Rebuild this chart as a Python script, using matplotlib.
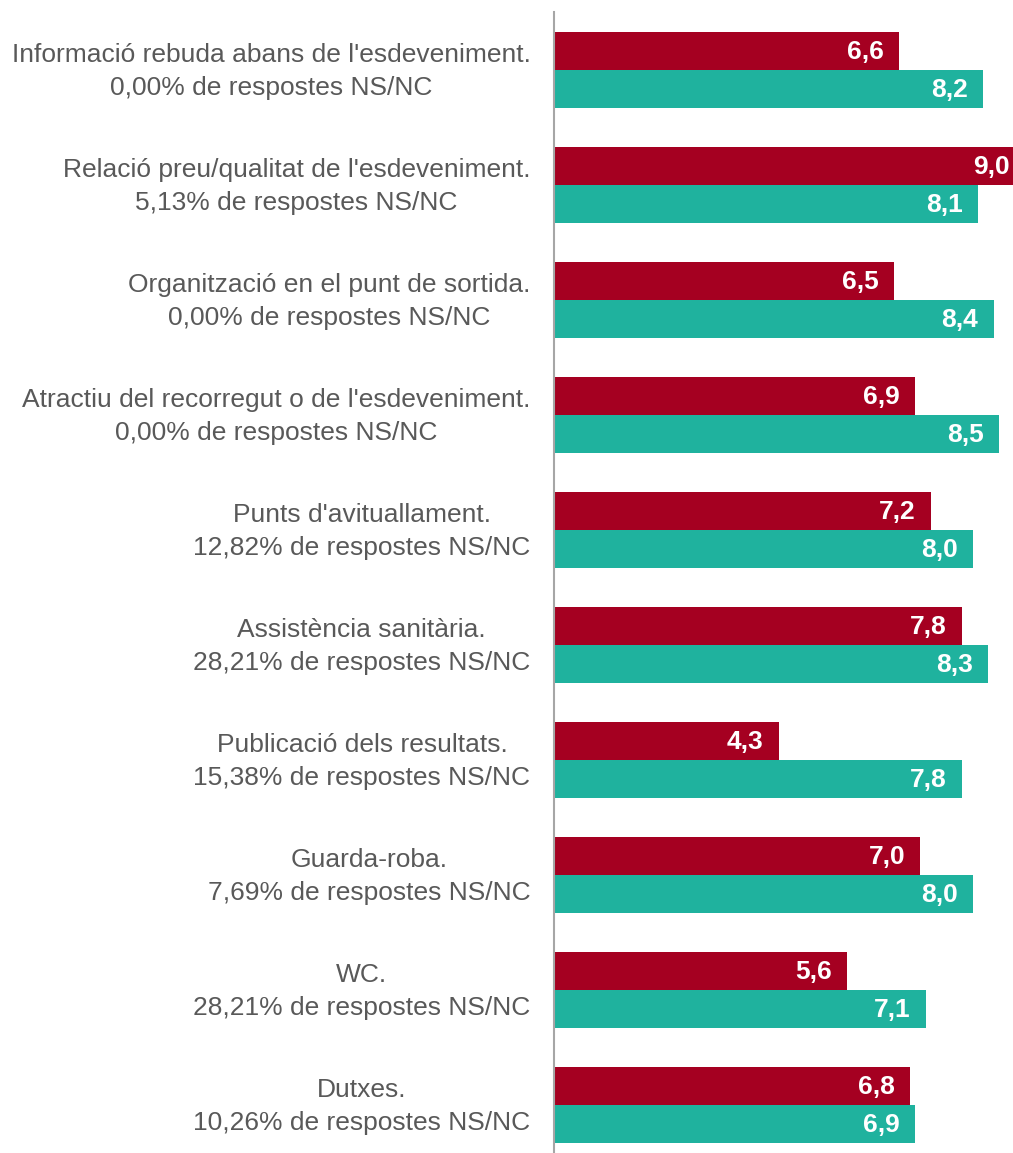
import matplotlib.pyplot as plt
import numpy as np

plt.rcParams['font.family'] = ['Liberation Sans', 'DejaVu Sans']

categories = [
    "Informació rebuda abans de l'esdeveniment.\n0,00% de respostes NS/NC",
    "Relació preu/qualitat de l'esdeveniment.\n5,13% de respostes NS/NC",
    "Organització en el punt de sortida.\n0,00% de respostes NS/NC",
    "Atractiu del recorregut o de l'esdeveniment.\n0,00% de respostes NS/NC",
    "Punts d'avituallament.\n12,82% de respostes NS/NC",
    "Assistència sanitària.\n28,21% de respostes NS/NC",
    "Publicació dels resultats.\n15,38% de respostes NS/NC",
    "Guarda-roba.\n7,69% de respostes NS/NC",
    "WC.\n28,21% de respostes NS/NC",
    "Dutxes.\n10,26% de respostes NS/NC",
]
red_vals = [6.6, 9.0, 6.5, 6.9, 7.2, 7.8, 4.3, 7.0, 5.6, 6.8]
teal_vals = [8.2, 8.1, 8.4, 8.5, 8.0, 8.3, 7.8, 8.0, 7.1, 6.9]

red = '#A50021'
teal = '#1FB29E'

fig = plt.figure(figsize=(10.13, 11.53), dpi=100)
ax = fig.add_axes([554 / 1013, 0, 1 - 554 / 1013, 1 - 12 / 1153])

y = np.arange(len(categories))
h = 38 / 115
ax.barh(y - h / 2, red_vals, height=h, color=red)
ax.barh(y + h / 2, teal_vals, height=h, color=teal)

for i in range(len(categories)):
    ax.annotate(f"{red_vals[i]:.1f}".replace('.', ','), (red_vals[i], y[i] - h / 2),
                xytext=(-11, -1), textcoords='offset points', ha='right', va='center',
                color='white', fontsize=19, fontweight='bold', annotation_clip=False)
    ax.annotate(f"{teal_vals[i]:.1f}".replace('.', ','), (teal_vals[i], y[i] + h / 2),
                xytext=(-11, -1), textcoords='offset points', ha='right', va='center',
                color='white', fontsize=19, fontweight='bold', annotation_clip=False)
    # category label, left of the axis
    ax.annotate(categories[i], (0, y[i]), xycoords=('axes fraction', 'data'),
                xytext=(-17, -1), textcoords='offset points', ha='right', va='center',
                multialignment='center', linespacing=1.45, fontsize=19,
                color='#595959', annotation_clip=False)

ax.set_xlim(0, 8.77)
ax.set_ylim(9 + (38 + 10) / 115, -(38 + 20) / 115)
ax.set_yticks([])
ax.set_xticks([])
for s in ['top', 'right', 'bottom']:
    ax.spines[s].set_visible(False)
ax.spines['left'].set_color('#A6A6A6')
ax.spines['left'].set_linewidth(1.5)

fig.savefig('out.png', dpi=100)
